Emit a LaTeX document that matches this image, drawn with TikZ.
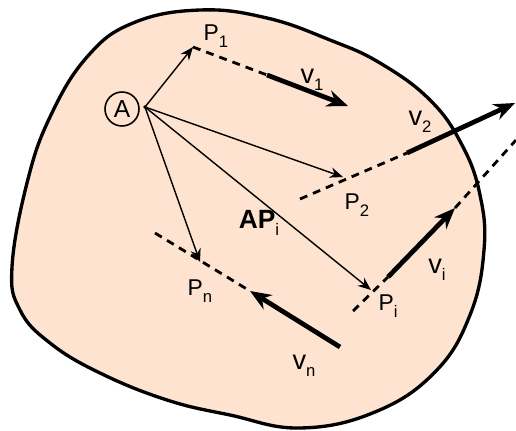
\documentclass[tikz,border=0pt]{standalone}
\usepackage{fontspec}
\setmainfont{Liberation Sans}
\usetikzlibrary{arrows.meta}
\definecolor{bodyfill}{RGB}{253,227,208}
\newcommand{\lsub}[1]{\raisebox{-4.2pt}{\fontsize{9.5}{11}\selectfont #1}}

\begin{document}
\begin{tikzpicture}[x=0.02cm, y=-0.02cm,
        plbl/.style={inner sep=0pt, font=\fontsize{13}{15}\selectfont},
        vlbl/.style={inner sep=0pt, font=\fontsize{15.5}{18}\selectfont},
        posarrow/.style={-{Stealth[length=7.5pt, width=6pt]}, line width=0.8pt},
        velarrow/.style={-{Stealth[length=12pt, width=9.5pt]}, line width=2.7pt},
        axisline/.style={dash pattern=on 4.5pt off 3.5pt, line width=1.6pt}]
        \useasboundingbox (0,0) rectangle (516,430);

        % Rigid body
        \draw[line width=1.9pt, fill=bodyfill] plot[smooth cycle, tension=0.7] coordinates {
            (200,10) (267,18) (330,40) (380,63) (430,100) (462,145) (480,195)
            (484,250) (470,315) (435,372) (375,412) (300,428) (230,415)
            (167,400) (100,373) (50,343) (20,310) (12,267) (27,183) (50,117)
            (87,57) (133,23)};

        % Nodes
        \node[draw, circle, line width=0.9pt, minimum size=0.68cm, inner sep=0pt, font=\fontsize{14}{16}\selectfont] (a) at (122,109) {A};
        \coordinate (o) at (145,107);
        \coordinate (p1) at (193,47);
        \coordinate (p2) at (343,177);
        \coordinate (pi) at (371,290);
        \coordinate (pn) at (200,262);

        % Velocity ends
        \coordinate (v1s) at (267,75);  \coordinate (v1e) at (348,106);
        \coordinate (v2s) at (407,153); \coordinate (v2e) at (515,103);
        \coordinate (vis) at (388,277); \coordinate (vie) at (455,208);
        \coordinate (vns) at (340,347); \coordinate (vne) at (250,291);
        \coordinate (ax2) at (300,199);
        \coordinate (axi) at (353,311);
        \coordinate (axie) at (516,140);
        \coordinate (axn) at (155,233);

        % Lines of action
        \draw[axisline] (p1) -- (v1s);
        \draw[axisline] (ax2) -- (v2s);
        \draw[axisline] (axi) -- (vis);
        \draw[axisline] (vie) -- (axie);
        \draw[axisline] (axn) -- (vne);

        % Position vectors
        \fill (o) circle (1.8);
        \draw[posarrow] (o) -- (p1);
        \draw[posarrow] (o) -- (p2);
        \draw[posarrow] (o) -- (pi);
        \draw[posarrow] (o) -- (pn);

        % Velocities
        \draw[velarrow] (v1s) -- (v1e);
        \draw[velarrow] (v2s) -- (v2e);
        \draw[velarrow] (vis) -- (vie);
        \draw[velarrow] (vns) -- (vne);

        % Labels
        \node[plbl] (p1lbl) at (216,36) {P\lsub{1}};
        \node[plbl] (p2lbl) at (357,205) {P\lsub{2}};
        \node[plbl] (pilbl) at (388,306) {P\lsub{i}};
        \node[plbl] (pnlbl) at (200,291) {P\lsub{n}};
        \node[vlbl] (v1lbl) at (312,80) {v\lsub{1}};
        \node[vlbl] (v2lbl) at (420,122) {v\lsub{2}};
        \node[vlbl] (vilbl) at (437,270) {v\lsub{i}};
        \node[vlbl] (vnlbl) at (304,366) {v\lsub{n}};
        \node[inner sep=0pt, font=\fontsize{15}{18}\selectfont\bfseries] (apilbl) at (259,223) {AP\lsub{\mdseries i}};

    \end{tikzpicture}
\end{document}
